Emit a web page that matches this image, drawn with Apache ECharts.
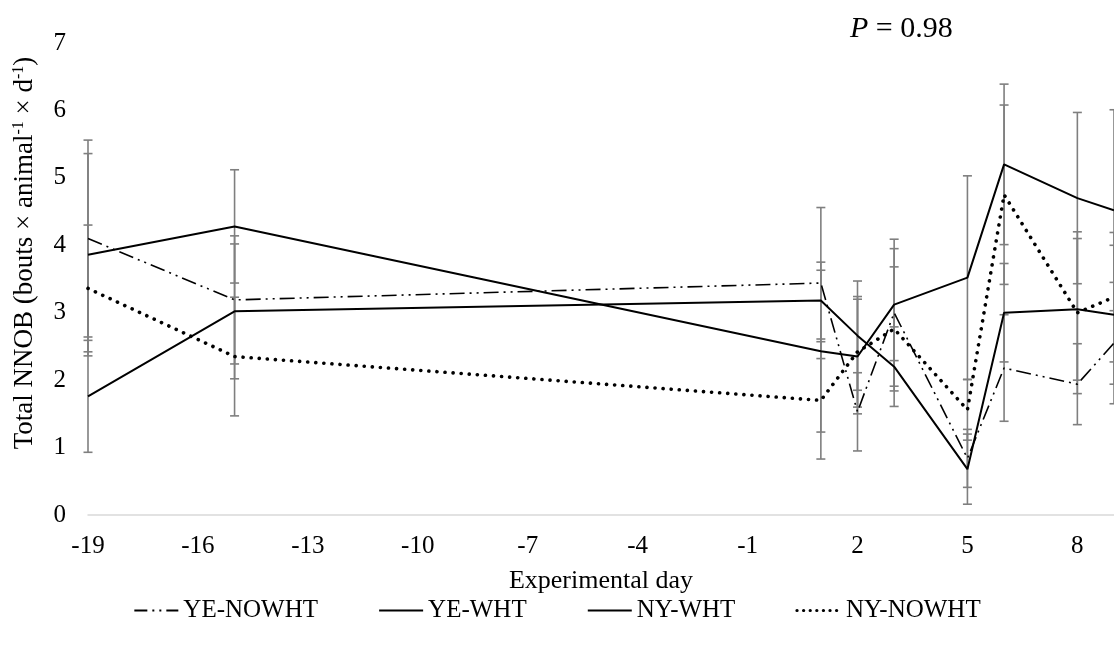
<!DOCTYPE html>
<html>
<head>
<meta charset="utf-8">
<script src="https://cdn.jsdelivr.net/npm/echarts@6/dist/echarts.min.js"></script>
<style>
html,body{margin:0;padding:0;background:#fff;}
#c{width:1114px;height:652px;}
</style>
</head>
<body>
<div id="c"></div>
<script>
// ---- data ----
const days = [-19, -15, 1, 2, 3, 5, 6, 8, 9];
const xTickLabels = ['-19', '-16', '-13', '-10', '-7', '-4', '-1', '2', '5', '8'];
const seriesNames = ['YE-NOWHT', 'YE-WHT', 'NY-WHT', 'NY-NOWHT'];

const yeNowht   = [4.10, 3.19, 3.44, 1.53, 3.00, 0.84, 2.18, 1.94, 2.55];
const yeNowhtSE = [1.46, 0.95, 1.12, 0.58, 1.09, 0.43, 0.79, 0.60, 0.90];
const yeWht     = [3.86, 4.28, 2.43, 2.35, 3.12, 3.52, 5.20, 4.70, 4.52];
const yeWhtSE   = [1.50, 0.84, 1.20, 0.85, 0.83, 1.51, 1.19, 1.27, 1.49];
const nyWht     = [1.76, 3.02, 3.18, 2.66, 2.20, 0.68, 3.00, 3.05, 2.97];
const nyWhtSE   = [0.83, 1.00, 0.57, 0.81, 0.59, 0.52, 0.73, 1.05, 1.03];
const nyNowht   = [3.36, 2.35, 1.70, 2.42, 2.76, 1.56, 4.75, 3.00, 3.23];
const nyNowhtSE = [0.94, 0.88, 0.87, 0.82, 0.92, 0.45, 1.33, 1.20, 0.96];
const pText = '0.98';

// ---- build ----
const FONT = 'Liberation Serif';
const chart = echarts.init(document.getElementById('c'), null, {renderer: 'canvas'});

function pairs(vals) { return days.map((d, i) => [d, vals[i]]); }
function errData(vals, se) { return days.map((d, i) => [d, vals[i] - se[i], vals[i] + se[i]]); }

function errSeries(vals, se) {
  return {
    type: 'custom',
    z: 1,
    silent: true,
    clip: false,
    data: errData(vals, se),
    encode: {x: 0, y: [1, 2]},
    renderItem: function (params, api) {
      const x = api.value(0);
      const lo = api.coord([x, api.value(1)]);
      const hi = api.coord([x, api.value(2)]);
      const hw = 4.5;
      const st = {stroke: '#7f7f7f', lineWidth: 1.6, fill: null};
      return {
        type: 'group',
        children: [
          {type: 'line', shape: {x1: lo[0], y1: lo[1], x2: hi[0], y2: hi[1]}, style: st},
          {type: 'line', shape: {x1: lo[0] - hw, y1: lo[1], x2: lo[0] + hw, y2: lo[1]}, style: st},
          {type: 'line', shape: {x1: hi[0] - hw, y1: hi[1], x2: hi[0] + hw, y2: hi[1]}, style: st}
        ]
      };
    }
  };
}

const lineStyles = [
  {color: '#000', width: 1.6, type: [15, 5, 2, 5, 2, 5]},
  {color: '#000', width: 2, type: 'solid'},
  {color: '#000', width: 2, type: 'solid'},
  {color: '#000', width: 3.6, type: [0.1, 8], cap: 'round'}
];
const legendLineStyles = [
  {color: '#000', width: 2, type: [13, 5, 2, 5, 2, 5]},
  {color: '#000', width: 2.2, type: 'solid'},
  {color: '#000', width: 2.2, type: 'solid'},
  {color: '#000', width: 3.2, type: [0.1, 6.5], cap: 'round'}
];
const values = [yeNowht, yeWht, nyWht, nyNowht];
const ses = [yeNowhtSE, yeWhtSE, nyWhtSE, nyNowhtSE];

const series = [];
values.forEach((v, i) => series.push(errSeries(v, ses[i])));
values.forEach((v, i) => series.push({
  name: seriesNames[i],
  type: 'line',
  z: 3,
  symbol: 'none',
  showSymbol: false,
  clip: false,
  data: pairs(v),
  lineStyle: lineStyles[i],
  itemStyle: {color: '#000'}
}));

const option = {
  animation: false,
  backgroundColor: '#fff',
  textStyle: {fontFamily: FONT, color: '#000'},
  grid: {left: 88, right: -4, top: 43, bottom: 137, containLabel: false},
  xAxis: {
    type: 'value',
    min: -19, max: 9, interval: 3,
    name: 'Experimental day',
    nameLocation: 'middle',
    nameGap: 53,
    nameTextStyle: {fontFamily: FONT, fontSize: 26, color: '#000'},
    axisLine: {show: true, onZero: false, lineStyle: {color: '#d9d9d9', width: 1.5}},
    axisTick: {show: false},
    splitLine: {show: false},
    axisLabel: {
      fontFamily: FONT, fontSize: 25, color: '#000', margin: 19,
      showMaxLabel: false,
      formatter: function (v) { const s = String(v); return xTickLabels.indexOf(s) >= 0 ? s : ''; }
    }
  },
  yAxis: {
    type: 'value',
    min: 0, max: 7, interval: 1,
    axisLine: {show: false},
    axisTick: {show: false},
    splitLine: {show: false},
    axisLabel: {fontFamily: FONT, fontSize: 25, color: '#000', margin: 22}
  },
  legend: {
    data: seriesNames.map((n, i) => ({name: n, lineStyle: legendLineStyles[i]})),
    bottom: 24,
    left: 'center',
    itemWidth: 44,
    itemHeight: 14,
    itemGap: 60,
    itemStyle: {color: 'transparent', borderColor: 'transparent', borderWidth: 0, opacity: 0},
    textStyle: {fontFamily: FONT, fontSize: 25, color: '#000'}
  },
  graphic: [
    {
      type: 'text',
      x: 25, y: 253,
      rotation: Math.PI / 2,
      style: {
        text: 'Total NNOB (bouts × animal{sup|-1} × d{sup|-1})',
        font: '27px "' + FONT + '"',
        fill: '#000',
        align: 'center',
        verticalAlign: 'middle',
        rich: {
          sup: {fontSize: 16, fontFamily: FONT, verticalAlign: 'top', padding: [0, 0, 13, 0]}
        }
      }
    },
    {
      type: 'text',
      left: 850, top: 14,
      style: {
        text: '{i|P} = ' + pText,
        font: '30px "' + FONT + '"',
        fill: '#000',
        rich: {
          i: {fontStyle: 'italic', fontSize: 30, fontFamily: FONT}
        }
      }
    }
  ],
  series: series
};
chart.setOption(option);
</script>
</body>
</html>
